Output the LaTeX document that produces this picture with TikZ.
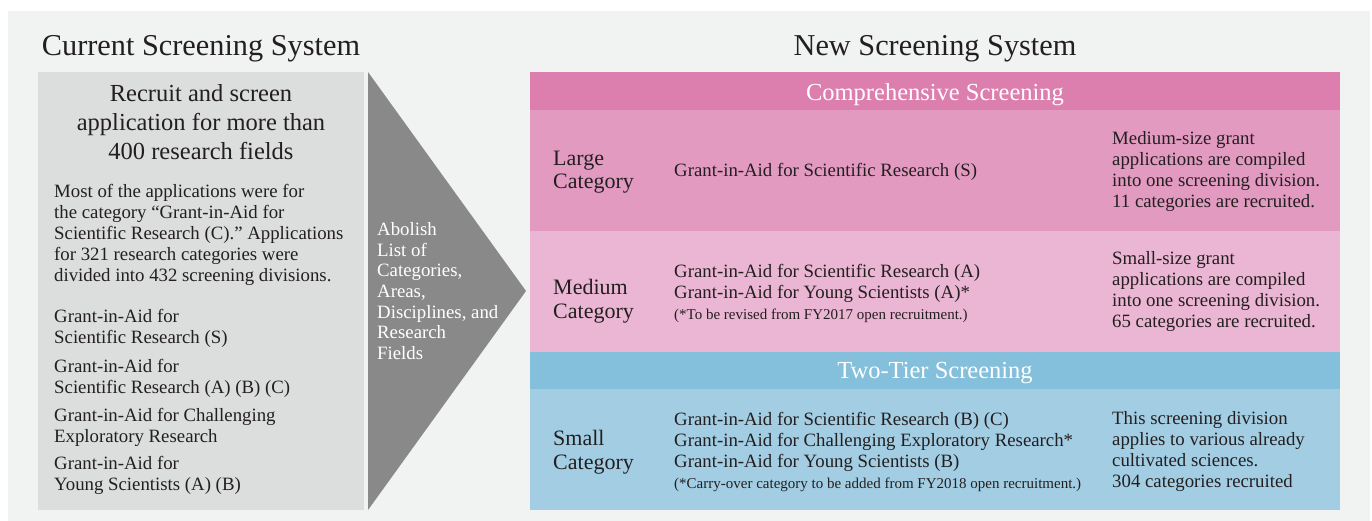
\documentclass[tikz,border=0pt]{standalone}
\usepackage{fontspec}
\setmainfont{Liberation Serif}
\definecolor{panelbg}{RGB}{241,242,242}
\definecolor{oldbox}{RGB}{220,221,221}
\definecolor{arrowgray}{RGB}{137,137,137}
\definecolor{inkdark}{RGB}{35,31,32}
\definecolor{combhead}{RGB}{221,127,174}
\definecolor{largerow}{RGB}{227,154,193}
\definecolor{mediumrow}{RGB}{235,182,211}
\definecolor{tierhead}{RGB}{132,191,219}
\definecolor{smallrow}{RGB}{162,205,227}

\begin{document}
\begin{tikzpicture}[x=1pt,y=-1pt,
  every node/.style={inner sep=0pt,text=inkdark},
  title/.style={font=\fontsize{30.3}{33}\selectfont},
  lead/.style={align=center,font=\fontsize{24.5}{29}\selectfont},
  head/.style={text=white,font=\fontsize{24.5}{29}\selectfont},
  cat/.style={anchor=west,align=left,font=\fontsize{22}{23.5}\selectfont},
  txt/.style={anchor=west,align=left,font=\fontsize{18.8}{21}\selectfont},
  note/.style={font=\fontsize{15}{21}\selectfont}]
\useasboundingbox (0,0) rectangle (1372,521);
\fill[panelbg] (8,11) rectangle (1370,521);

\fill[oldbox] (38,72) rectangle (364,510);
\fill[arrowgray] (368,72) -- (526,291) -- (368,510) -- cycle;

\fill[combhead] (530,72) rectangle (1340,110);
\fill[largerow] (530,110) rectangle (1340,231);
\fill[mediumrow] (530,231) rectangle (1340,352);
\fill[tierhead] (530,352) rectangle (1340,389);
\fill[smallrow] (530,389) rectangle (1340,510);

\node[title] (current) at (201,49) {Current Screening System};
\node[title] (new) at (935,49) {New Screening System};

\node[lead] (recruit) at (201,122) {Recruit and screen\\application for more than\\400 research fields};
\node[txt] (most) at (54,235) {Most of the applications were for\\the category “Grant-in-Aid for\\Scientific Research (C).” Applications\\for 321 research categories were\\divided into 432 screening divisions.};
\node[txt] (oldS) at (54,328.5) {Grant-in-Aid for\\Scientific Research (S)};
\node[txt] (oldABC) at (54,378.5) {Grant-in-Aid for\\Scientific Research (A) (B) (C)};
\node[txt] (oldCER) at (54,427) {Grant-in-Aid for Challenging\\Exploratory Research};
\node[txt] (oldYS) at (54,475) {Grant-in-Aid for\\Young Scientists (A) (B)};

\node[txt,text=white,font=\fontsize{18.8}{20.6}\selectfont] (abolish) at (377,291) {Abolish\\List of\\Categories,\\Areas,\\Disciplines, and\\Research\\Fields};

\node[head] (comp) at (935,94.5) {Comprehensive Screening};
\node[head] (tier) at (935,373.5) {Two-Tier Screening};

\node[cat] (large) at (553,172) {Large\\Category};
\node[txt] (largeS) at (674,172) {Grant-in-Aid for Scientific Research (S)};
\node[txt] (largeR) at (1112,172) {Medium-size grant\\applications are compiled\\into one screening division.\\11 categories are recruited.};

\node[cat] (medium) at (553,301) {Medium\\Category};
\node[txt] (mediumG) at (674,293) {Grant-in-Aid for Scientific Research (A)\\Grant-in-Aid for Young Scientists (A)*\\{\fontsize{15}{21}\selectfont(*To be revised from FY2017 open recruitment.)}};
\node[txt] (mediumR) at (1112,292) {Small-size grant\\applications are compiled\\into one screening division.\\65 categories are recruited.};

\node[cat] (small) at (553,452) {Small\\Category};
\node[txt] (smallG) at (674,452) {Grant-in-Aid for Scientific Research (B) (C)\\Grant-in-Aid for Challenging Exploratory Research*\\Grant-in-Aid for Young Scientists (B)\\{\fontsize{15}{21}\selectfont(*Carry-over category to be added from FY2018 open recruitment.)}};
\node[txt] (smallR) at (1112,452) {This screening division\\applies to various already\\cultivated sciences.\\304 categories recruited};
\end{tikzpicture}
\end{document}
